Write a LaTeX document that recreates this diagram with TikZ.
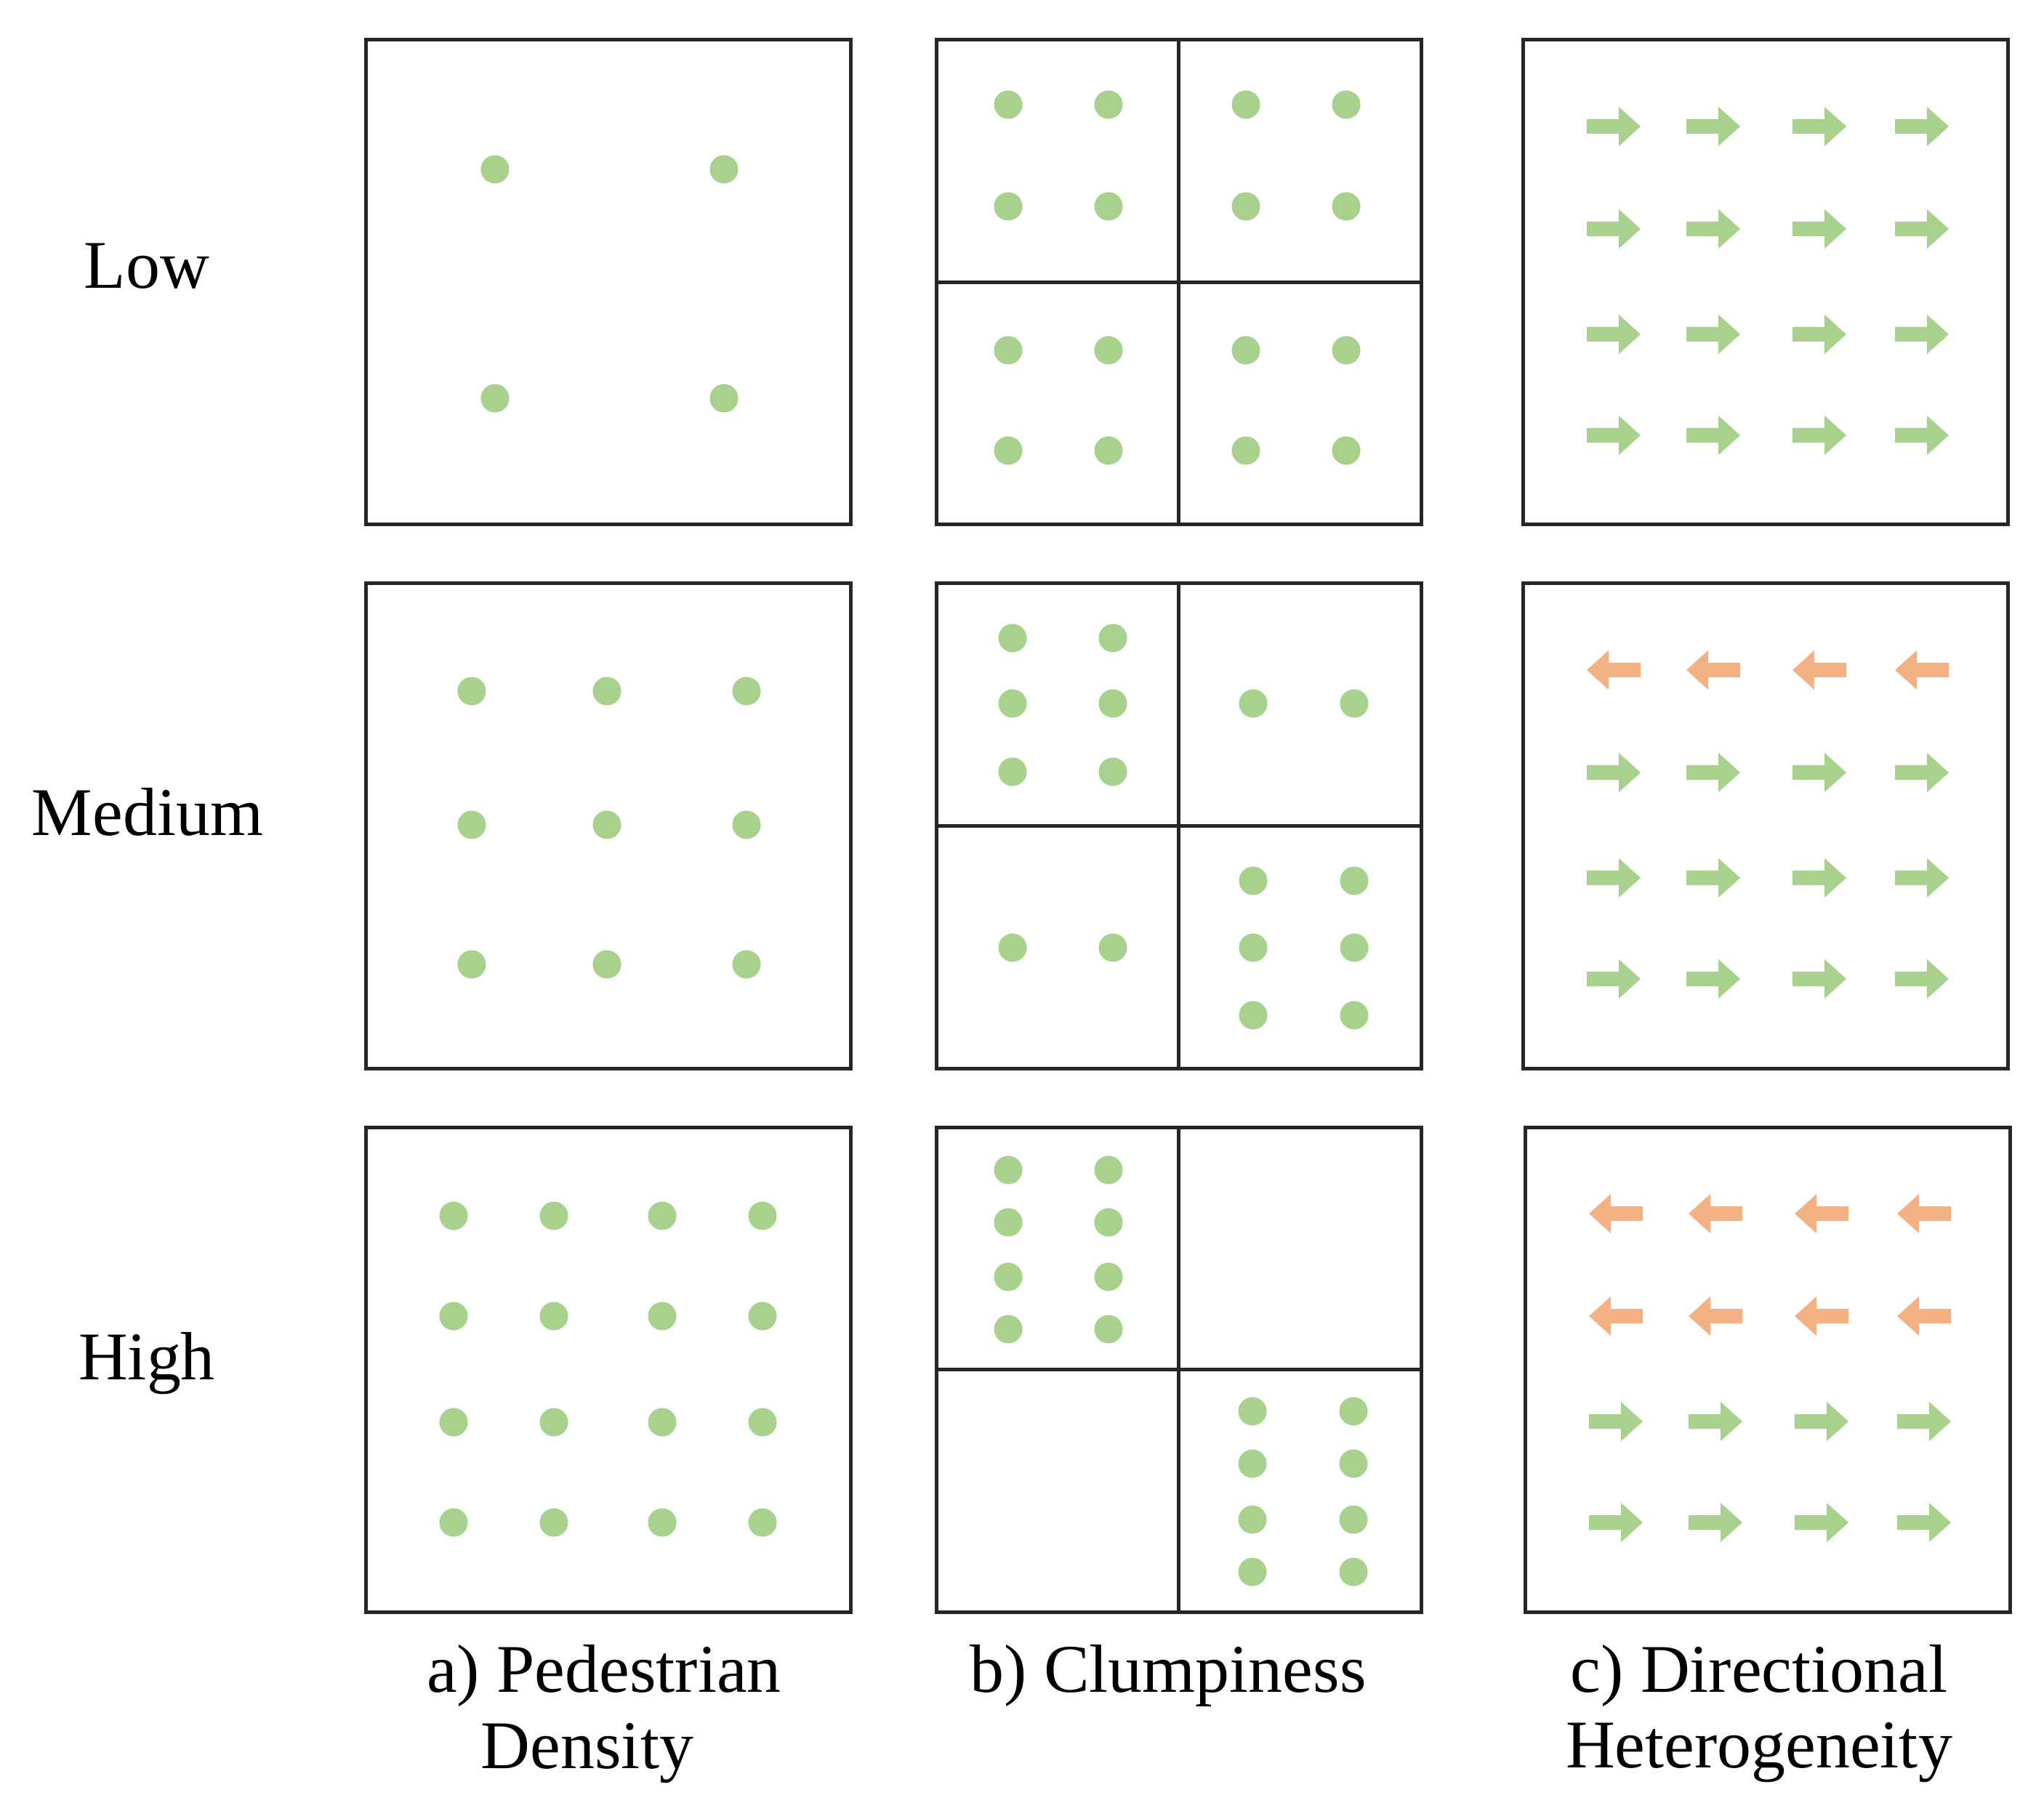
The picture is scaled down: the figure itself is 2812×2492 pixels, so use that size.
\documentclass[tikz,border=0pt]{standalone}
\usepackage{fontspec}
\setmainfont{Liberation Serif}
\definecolor{grn}{HTML}{A9D18E}
\definecolor{org}{HTML}{F4B183}
\definecolor{edgec}{HTML}{262626}
\tikzset{
  panel/.style={draw=edgec, line width=0.05cm},
  divider/.style={draw=edgec, line width=0.045cm},
  pdot/.style={fill=grn},
  txt/.style={anchor=base, inner sep=0pt, font=\fontsize{26.7pt}{32pt}\selectfont},
  garrow/.pic={\fill[grn] (-37,-10) -- (7,-10) -- (7,-27) -- (37,0) -- (7,27) -- (7,10) -- (-37,10) -- cycle;},
  oarrow/.pic={\fill[org] (37,-10) -- (-7,-10) -- (-7,-27) -- (-37,0) -- (-7,27) -- (-7,10) -- (37,10) -- cycle;}
}
\begin{document}
\begin{tikzpicture}[x=0.01cm,y=-0.01cm]
\useasboundingbox (0,0) rectangle (2812,2492);
\fill[white] (0,0) rectangle (2812,2492);

% panels
\foreach \px/\py in {503/55,503/803,503/1551,1288/55,1288/803,1288/1551,2095/55,2095/803,2098/1551}
  \draw[panel] (\px,\py) rectangle ++(667,667);
% dividers of clumpiness panels
\foreach \py in {55,803,1551}{
  \draw[divider] (1621.5,\py) -- ++(0,667);
  \draw[divider] (1288,\py+333.5) -- ++(667,0);
}

% a) pedestrian density
\foreach \i in {178,493} \foreach \j in {178,493}
  \fill[pdot] (503+\i,55+\j) circle[radius=0.195cm];
\foreach \i in {146,332,524} \foreach \j in {148,332,524}
  \fill[pdot] (503+\i,803+\j) circle[radius=0.195cm];
\foreach \i in {121,259,408,546} \foreach \j in {122,260,406,544}
  \fill[pdot] (503+\i,1551+\j) circle[radius=0.195cm];

% b) clumpiness
\foreach \i in {99,237,426,564} \foreach \j in {89,229,427,565}
  \fill[pdot] (1288+\i,55+\j) circle[radius=0.195cm];
\foreach \i in {105,243} \foreach \j in {75,165,259}
  \fill[pdot] (1288+\i,803+\j) circle[radius=0.195cm];
\foreach \i in {436,575} \foreach \j in {165}
  \fill[pdot] (1288+\i,803+\j) circle[radius=0.195cm];
\foreach \i in {105,243} \foreach \j in {501}
  \fill[pdot] (1288+\i,803+\j) circle[radius=0.195cm];
\foreach \i in {436,575} \foreach \j in {409,501,594}
  \fill[pdot] (1288+\i,803+\j) circle[radius=0.195cm];
\foreach \i in {99,237} \foreach \j in {59,131,206,278}
  \fill[pdot] (1288+\i,1551+\j) circle[radius=0.195cm];
\foreach \i in {435,574} \foreach \j in {391,463,540,612}
  \fill[pdot] (1288+\i,1551+\j) circle[radius=0.195cm];

% c) directional heterogeneity
\foreach \i in {125,262,408,549}{
  \foreach \j in {119,260,405,544}
    \pic at (2095+\i,55+\j) {garrow};
  \pic at (2095+\i,803+119) {oarrow};
  \foreach \j in {260,405,544}
    \pic at (2095+\i,803+\j) {garrow};
  \foreach \j in {119,260}
    \pic at (2098+\i,1551+\j) {oarrow};
  \foreach \j in {405,544}
    \pic at (2098+\i,1551+\j) {garrow};
}

% labels
\node[txt] (low) at (202,397) {Low};
\node[txt] (medium) at (203,1150) {Medium};
\node[txt] (high) at (202,1898) {High};
\node[txt] (capa1) at (831,2328) {a) Pedestrian};
\node[txt] (capa2) at (808,2433) {Density};
\node[txt] (capb) at (1607,2328) {b) Clumpiness};
\node[txt] (capc1) at (2420,2328) {c) Directional};
\node[txt] (capc2) at (2420,2432) {Heterogeneity};
\end{tikzpicture}
\end{document}
